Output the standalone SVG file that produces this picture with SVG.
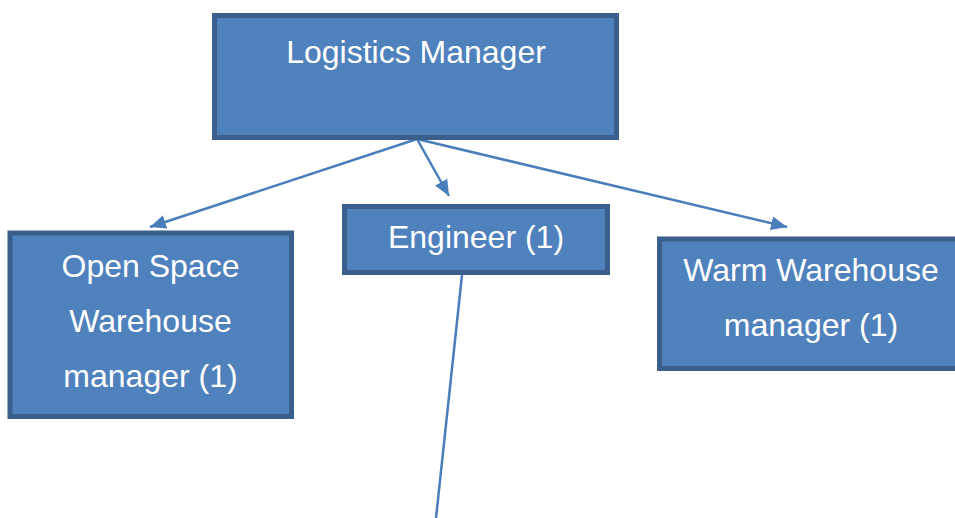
<svg xmlns="http://www.w3.org/2000/svg" width="955" height="518" viewBox="0 0 955 518">
  <style>
    .box { fill: #4f81bd; stroke: #3a5f8c; stroke-width: 5; }
    .label { fill: #ffffff; font-family: "Liberation Sans", Arial, sans-serif; font-size: 32px; text-anchor: middle; }
    .link { fill: none; stroke: #4a7ebb; stroke-width: 2.5; }
  </style>
  <defs>
    <marker id="arrow" markerUnits="userSpaceOnUse" markerWidth="16" markerHeight="14" refX="16" refY="7" orient="auto">
      <path d="M0,0 L16,7 L0,14 Z" fill="#4a7ebb"/>
    </marker>
  </defs>
  <rect width="955" height="518" fill="#ffffff"/>

  <g id="connectors">
    <line class="link" x1="417" y1="139" x2="150" y2="227" marker-end="url(#arrow)"/>
    <line class="link" x1="417" y1="139" x2="449" y2="196" marker-end="url(#arrow)"/>
    <line class="link" x1="417" y1="139" x2="787" y2="227" marker-end="url(#arrow)"/>
    <line class="link" x1="462" y1="275" x2="436" y2="518"/>
  </g>

  <g id="logistics-manager">
    <rect class="box" x="214.5" y="15.5" width="402" height="122"/>
    <text class="label" x="416" y="63">Logistics Manager</text>
  </g>

  <g id="engineer">
    <rect class="box" x="344.5" y="206.5" width="263" height="66"/>
    <text class="label" x="476" y="248">Engineer (1)</text>
  </g>

  <g id="open-space-warehouse-manager">
    <rect class="box" x="10" y="233" width="281.5" height="183.5"/>
    <text class="label" x="150.5" y="277">Open Space</text>
    <text class="label" x="150.5" y="332">Warehouse</text>
    <text class="label" x="150.5" y="387">manager (1)</text>
  </g>

  <g id="warm-warehouse-manager">
    <rect class="box" x="659.5" y="239" width="300" height="129.5"/>
    <text class="label" x="811" y="281">Warm Warehouse</text>
    <text class="label" x="811" y="336">manager (1)</text>
  </g>
</svg>
